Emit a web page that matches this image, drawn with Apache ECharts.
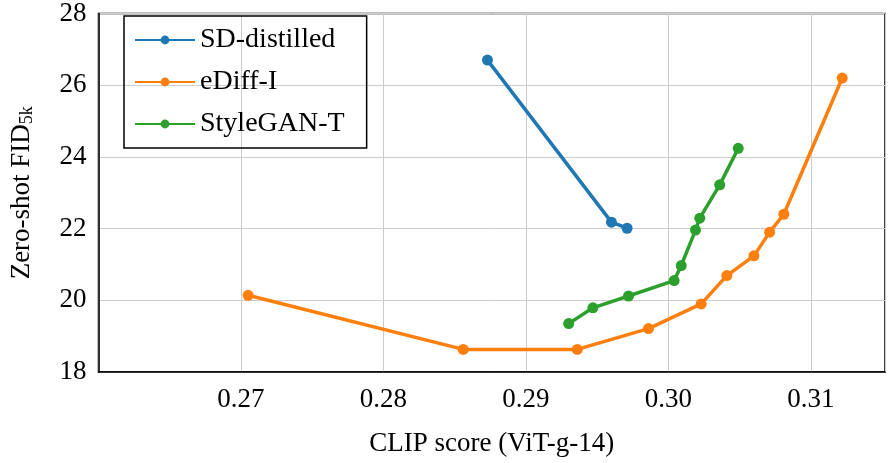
<!DOCTYPE html>
<html><head><meta charset="utf-8">
<script src="https://cdn.jsdelivr.net/npm/echarts@6/dist/echarts.min.js"></script>
<style>html,body{margin:0;padding:0;background:#fff}#c{width:889px;height:463px}</style>
</head><body><div id="c"></div>
<script>
// data
var sdDistilled = [[0.2873, 26.70], [0.2960, 22.18], [0.2971, 22.01]];
var eDiffI = [[0.2705, 20.14], [0.2856, 18.63], [0.2936, 18.63], [0.2986, 19.21], [0.3023, 19.90],
  [0.3041, 20.69], [0.3060, 21.24], [0.3071, 21.90], [0.3081, 22.40], [0.3122, 26.20]];
var styleGanT = [[0.2930, 19.35], [0.2947, 19.79], [0.2972, 20.12], [0.3004, 20.55], [0.3009, 20.97],
  [0.3019, 21.96], [0.3022, 22.29], [0.3036, 23.22], [0.3049, 24.24]];
var xTicks = [0.27, 0.28, 0.29, 0.30, 0.31];

var font = 'Liberation Serif';
var chart = echarts.init(document.getElementById('c'));
function line(name, data, color) {
  return {
    name: name, type: 'line', data: data, symbol: 'circle', symbolSize: 11,
    lineStyle: {width: 3.5, color: color}, itemStyle: {color: color}, animation: false
  };
}
chart.setOption({
  textStyle: {fontFamily: font},
  grid: {left: 98, right: 4, top: 8, bottom: 91, show: true, borderColor: '#000', borderWidth: 1.5},
  legend: {
    left: 124, top: 16, orient: 'vertical', itemWidth: 60, itemHeight: 11, itemGap: 14,
    borderColor: '#000', borderWidth: 1.5, padding: [10, 22, 10, 10],
    textStyle: {fontFamily: font, fontSize: 28, color: '#000'},
    data: ['SD-distilled', 'eDiff-I', 'StyleGAN-T']
  },
  xAxis: {
    type: 'value', min: 0.26, max: 0.3152, interval: 0.01,
    name: 'CLIP score (ViT-g-14)', nameLocation: 'middle', nameGap: 58,
    nameTextStyle: {fontFamily: font, fontSize: 27, color: '#000'},
    axisLine: {lineStyle: {color: '#000', width: 1.5}}, axisTick: {show: false},
    axisLabel: {fontFamily: font, fontSize: 27, color: '#000', margin: 14, showMaxLabel: false,
      formatter: function (v) { for (var i = 0; i < xTicks.length; i++) if (Math.abs(v - xTicks[i]) < 1e-6) return xTicks[i].toFixed(2); return ''; }},
    splitLine: {lineStyle: {color: '#ccc'}}
  },
  yAxis: {
    type: 'value', min: 18, max: 28, interval: 2,
    name: '{a|Zero-shot FID}{s|5k}', nameLocation: 'middle', nameGap: 62,
    nameTextStyle: {rich: {a: {fontFamily: font, fontSize: 27, color: '#000'}, s: {fontFamily: font, fontSize: 18, color: '#000', verticalAlign: 'bottom', padding: [12, 0, 0, 0]}}},
    axisLine: {lineStyle: {color: '#000', width: 1.5}}, axisTick: {show: false},
    axisLabel: {fontFamily: font, fontSize: 27, color: '#000', margin: 12},
    splitLine: {lineStyle: {color: '#ccc'}}
  },
  series: [
    line('SD-distilled', sdDistilled, '#1f77b4'),
    line('eDiff-I', eDiffI, '#ff7f0e'),
    line('StyleGAN-T', styleGanT, '#2ca02c')
  ]
});
</script></body></html>
